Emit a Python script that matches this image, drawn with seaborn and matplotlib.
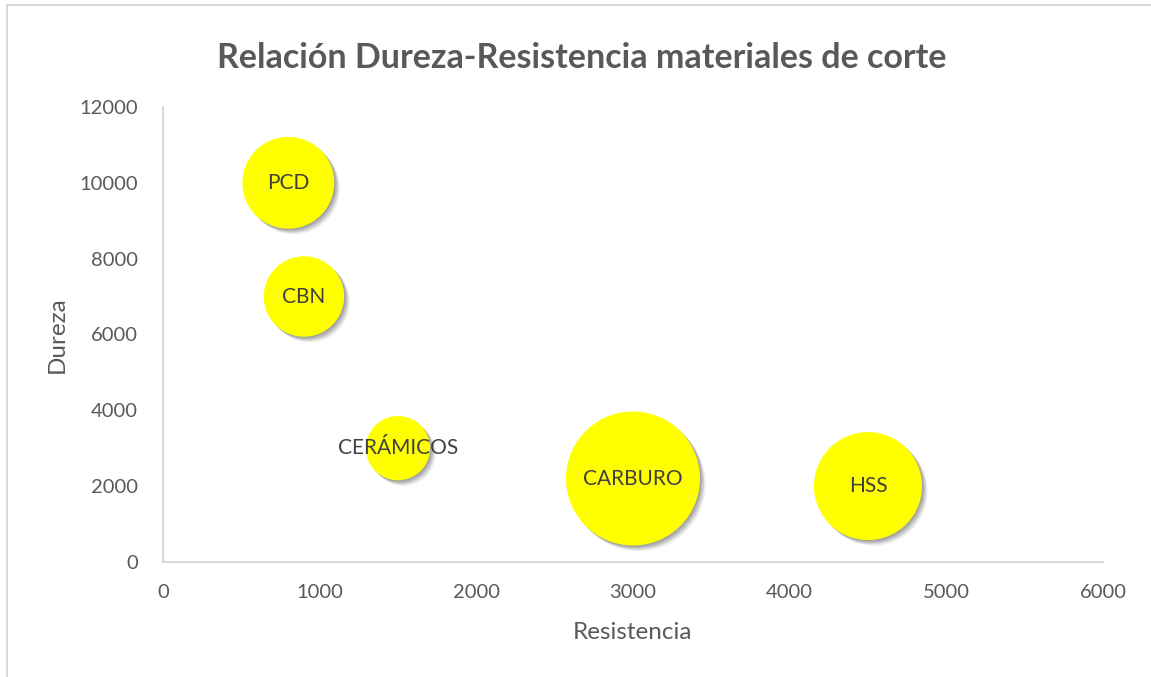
import pandas as pd
import numpy as np
import matplotlib.pyplot as plt
import matplotlib.patheffects as pe
import seaborn as sns

# datos
materiales = ['PCD', 'CBN', 'CERÁMICOS', 'CARBURO', 'HSS']
resistencia = [800, 900, 1500, 3000, 4500]
dureza = [10000, 7000, 3000, 2200, 2000]
tamano = [47, 36, 23, 100, 65]

data = pd.DataFrame({'material': materiales, 'Resistencia': resistencia,
                     'Dureza': dureza, 'tamano': tamano})

sns.set_style('white')
plt.rcParams['font.family'] = ['Lato', 'DejaVu Sans']

fig = plt.figure(figsize=(11.51, 6.77), dpi=100)
ax = fig.add_axes([0.1416, 0.170, 0.8167, 0.672])

# area proporcional al tamano (como Excel)
max_area = (2 * 67 * 0.72) ** 2
sns.scatterplot(data=data, x='Resistencia', y='Dureza', size='tamano',
                sizes=(0, max_area), size_norm=(0, max(tamano)),
                color='#FFFF00', edgecolor='none', legend=False, ax=ax,
                zorder=3)

# sombra suave bajo las burbujas
shadow = [pe.SimplePatchShadow(offset=(4, -4), shadow_rgbFace='#000000', alpha=0.07),
          pe.SimplePatchShadow(offset=(3, -3), shadow_rgbFace='#000000', alpha=0.10),
          pe.SimplePatchShadow(offset=(2, -2), shadow_rgbFace='#000000', alpha=0.12),
          pe.SimplePatchShadow(offset=(1, -1), shadow_rgbFace='#000000', alpha=0.12),
          pe.Normal()]
ax.collections[0].set_path_effects(shadow)

for i, row in data.iterrows():
    ax.text(row['Resistencia'], row['Dureza'], row['material'], ha='center',
            va='center', fontsize=15, color='#404040', zorder=4)

ax.set_xlim(0, 6000)
ax.set_ylim(0, 12000)
ax.set_xticks(np.arange(0, 6001, 1000))
ax.set_yticks(np.arange(0, 12001, 2000))
ax.tick_params(axis='both', length=0, labelsize=14.5, labelcolor='#595959')
ax.tick_params(axis='x', pad=16)
ax.tick_params(axis='y', pad=18)

for s in ['top', 'right']:
    ax.spines[s].set_visible(False)
for s in ['left', 'bottom']:
    ax.spines[s].set_color('#D0D0D0')
    ax.spines[s].set_linewidth(1.2)

ax.set_xlabel('Resistencia', fontsize=17.5, color='#595959', labelpad=15)
ax.set_ylabel('Dureza', fontsize=17.5, color='#595959', labelpad=8)

fig.text(0.505, 0.915, 'Relación Dureza-Resistencia materiales de corte',
         ha='center', va='center', fontsize=24.5, fontweight='bold', color='#595959')

# marco del grafico
fig.patches.append(plt.Rectangle((7 / 1151, -0.05), 1.2, 1 - 5 / 677 + 0.05,
                                 transform=fig.transFigure, fill=False,
                                 edgecolor='#D9D9D9', linewidth=1.5))

plt.savefig('out.png', dpi=100)
